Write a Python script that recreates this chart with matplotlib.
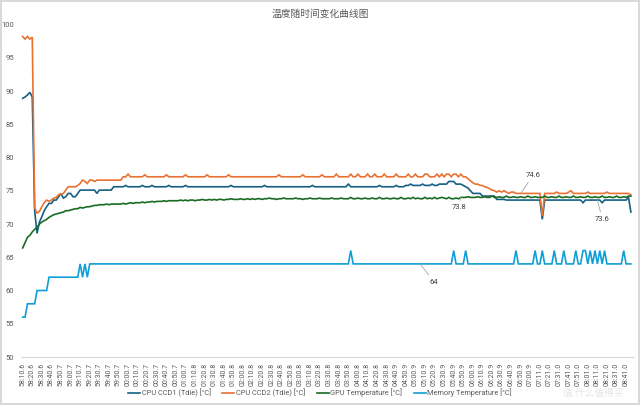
import matplotlib.pyplot as plt
import numpy as np

# chart text
title = "温度随时间变化曲线图"
series_names = ["CPU CCD1 (Tdie) [°C]", "CPU CCD2 (Tdie) [°C]",
                "GPU Temperature [°C]", "Memory Temperature [°C]"]

# one label every 4 samples
time_labels = [
    "58:10.6", "58:20.6", "58:30.6", "58:40.6", "58:50.7", "59:00.7", "59:10.7", "59:20.7",
    "59:30.7", "59:40.7", "59:50.7", "00:00.7", "00:10.7", "00:20.7", "00:30.7", "00:40.7",
    "00:50.7", "01:00.7", "01:10.8", "01:20.8", "01:30.8", "01:40.8", "01:50.8", "02:00.8",
    "02:10.8", "02:20.8", "02:30.8", "02:40.8", "02:50.8", "03:00.8", "03:10.8", "03:20.8",
    "03:30.8", "03:40.8", "03:50.8", "04:00.8", "04:10.8", "04:20.8", "04:30.8", "04:40.9",
    "04:50.9", "05:00.9", "05:10.9", "05:20.9", "05:30.9", "05:40.9", "05:50.9", "06:00.9",
    "06:10.9", "06:20.9", "06:30.9", "06:40.9", "06:50.9", "07:00.9", "07:11.0", "07:21.0",
    "07:31.0", "07:41.0", "07:51.0", "08:01.0", "08:11.0", "08:21.0", "08:31.0", "08:41.0",
]

ccd1 = [
    88.9, 89.1, 89.4, 89.8, 89.1, 72.0, 68.6, 70.3, 71.1, 72.0, 72.6, 73.1, 73.1, 73.6, 73.6, 74.1,
    74.6, 73.9, 74.1, 74.6, 74.6, 74.1, 74.1, 74.6, 75.1, 75.1, 75.1, 75.1, 75.1, 75.1, 75.1, 74.6,
    75.1, 75.1, 75.1, 75.1, 75.1, 75.1, 75.6, 75.6, 75.6, 75.6, 75.6, 75.8, 75.6, 75.6, 75.6, 75.6,
    75.6, 75.6, 75.8, 75.6, 75.6, 75.6, 75.8, 75.6, 75.6, 75.6, 75.6, 75.6, 75.6, 75.8, 75.6, 75.6,
    75.6, 75.6, 75.6, 75.6, 75.8, 75.6, 75.6, 75.6, 75.6, 75.6, 75.6, 75.6, 75.6, 75.6, 75.6, 75.6,
    75.6, 75.6, 75.6, 75.6, 75.6, 75.6, 75.6, 75.8, 75.6, 75.6, 75.6, 75.6, 75.6, 75.6, 75.6, 75.6,
    75.6, 75.6, 75.6, 75.6, 75.6, 75.8, 75.6, 75.6, 75.6, 75.6, 75.6, 75.6, 75.6, 75.6, 75.6, 75.6,
    75.6, 75.6, 75.6, 75.6, 75.6, 75.6, 75.6, 75.6, 75.6, 75.8, 75.6, 75.6, 75.6, 75.6, 75.6, 75.6,
    75.6, 75.6, 75.6, 75.6, 75.6, 75.6, 75.6, 75.6, 76.0, 75.6, 75.6, 75.6, 75.6, 75.6, 75.6, 75.6,
    75.6, 75.6, 75.6, 75.6, 75.6, 75.8, 75.6, 75.6, 75.6, 75.6, 75.6, 75.6, 75.8, 75.6, 75.6, 75.6,
    75.8, 75.8, 76.0, 75.8, 75.8, 75.8, 75.8, 76.0, 75.8, 75.8, 75.8, 76.0, 75.8, 75.8, 76.0, 76.0,
    76.0, 76.0, 76.4, 76.4, 76.4, 76.0, 76.0, 76.0, 75.8, 75.6, 75.4, 75.0, 74.6, 74.6, 74.6, 74.6,
    74.2, 74.2, 74.2, 74.2, 74.2, 74.2, 73.7, 73.7, 73.7, 73.7, 73.6, 73.6, 73.6, 73.6, 73.6, 73.6,
    73.6, 73.6, 73.6, 73.6, 73.6, 73.6, 73.6, 73.6, 73.6, 70.7, 73.6, 73.6, 73.6, 73.6, 73.6, 73.6,
    73.6, 73.6, 73.6, 73.6, 73.6, 73.6, 73.6, 73.6, 73.6, 73.6, 73.2, 73.6, 73.6, 73.6, 73.6, 73.6,
    73.6, 73.6, 73.2, 73.6, 73.6, 73.6, 73.6, 73.6, 73.6, 73.6, 73.6, 73.6, 73.6, 74.0, 71.8,
]

ccd2 = [
    98.2, 97.8, 98.2, 97.8, 98.1, 72.5, 71.6, 71.9, 72.6, 73.2, 73.6, 73.4, 73.6, 73.9, 74.0, 74.4,
    74.5, 74.6, 75.1, 75.6, 75.6, 75.6, 75.6, 75.8, 76.1, 76.6, 76.4, 76.1, 76.6, 76.6, 76.4, 76.6,
    76.6, 76.6, 76.6, 76.6, 76.6, 76.6, 76.6, 76.6, 76.6, 76.6, 77.1, 77.1, 77.5, 77.1, 77.1, 77.1,
    77.1, 77.1, 77.1, 77.4, 77.1, 77.1, 77.1, 77.1, 77.1, 77.1, 77.1, 77.1, 77.4, 77.1, 77.1, 77.1,
    77.1, 77.1, 77.1, 77.1, 77.4, 77.1, 77.1, 77.1, 77.1, 77.1, 77.1, 77.1, 77.1, 77.4, 77.1, 77.1,
    77.1, 77.1, 77.1, 77.1, 77.1, 77.1, 77.4, 77.1, 77.1, 77.1, 77.1, 77.1, 77.1, 77.1, 77.1, 77.1,
    77.1, 77.1, 77.1, 77.1, 77.1, 77.1, 77.1, 77.1, 77.1, 77.1, 77.1, 77.4, 77.1, 77.1, 77.1, 77.1,
    77.1, 77.1, 77.1, 77.1, 77.1, 77.4, 77.1, 77.1, 77.1, 77.1, 77.1, 77.1, 77.1, 77.4, 77.1, 77.1,
    77.1, 77.1, 77.1, 77.5, 77.1, 77.1, 77.1, 77.1, 77.1, 77.5, 77.1, 77.1, 77.5, 77.1, 77.1, 77.1,
    77.5, 77.1, 77.1, 77.5, 77.1, 77.1, 77.1, 77.5, 77.1, 77.1, 77.1, 77.1, 77.5, 77.1, 77.1, 77.1,
    77.1, 77.5, 77.1, 77.1, 77.5, 77.1, 77.1, 77.1, 77.5, 77.5, 77.1, 77.1, 77.1, 77.5, 77.1, 77.5,
    77.1, 77.5, 77.5, 77.1, 77.5, 77.5, 77.1, 77.5, 77.1, 77.1, 76.8, 76.5, 76.2, 76.0, 76.0, 75.8,
    75.8, 75.6, 75.5, 75.3, 75.1, 75.0, 74.8, 75.0, 74.8, 75.0, 74.8, 74.6, 74.8, 74.8, 74.6, 74.6,
    74.6, 74.6, 74.6, 74.6, 74.6, 74.6, 74.6, 74.6, 74.6, 71.2, 74.6, 74.6, 74.6, 74.6, 74.6, 74.8,
    74.6, 74.6, 74.6, 74.6, 74.8, 75.0, 74.6, 74.6, 74.6, 74.6, 74.6, 74.6, 74.8, 74.6, 74.6, 74.6,
    74.6, 74.6, 74.6, 74.6, 74.8, 74.6, 74.6, 74.6, 74.6, 74.6, 74.6, 74.6, 74.6, 74.6, 74.4,
]

gpu = [
    66.4, 67.2, 68.0, 68.3, 68.8, 69.2, 69.5, 70.0, 70.3, 70.5, 70.7, 71.0, 71.2, 71.4, 71.5, 71.6,
    71.7, 71.8, 72.0, 72.0, 72.1, 72.2, 72.3, 72.3, 72.5, 72.4, 72.5, 72.6, 72.6, 72.7, 72.8, 72.8,
    72.9, 72.9, 72.9, 73.0, 72.9, 73.0, 73.0, 73.0, 73.0, 73.0, 73.1, 73.0, 73.1, 73.2, 73.1, 73.2,
    73.2, 73.2, 73.3, 73.2, 73.3, 73.3, 73.4, 73.3, 73.4, 73.4, 73.4, 73.5, 73.4, 73.5, 73.5, 73.5,
    73.5, 73.5, 73.6, 73.5, 73.6, 73.5, 73.6, 73.6, 73.5, 73.6, 73.6, 73.7, 73.6, 73.6, 73.7, 73.6,
    73.7, 73.6, 73.7, 73.7, 73.6, 73.7, 73.7, 73.8, 73.7, 73.7, 73.7, 73.8, 73.7, 73.7, 73.8, 73.7,
    73.8, 73.7, 73.8, 73.8, 73.7, 73.8, 73.8, 73.9, 73.8, 73.8, 73.7, 73.8, 73.8, 73.9, 73.8, 73.8,
    73.8, 73.8, 73.9, 73.8, 73.8, 73.7, 73.8, 73.8, 73.9, 73.8, 73.8, 73.8, 73.9, 73.8, 73.8, 73.8,
    73.8, 73.9, 73.8, 73.8, 73.8, 73.9, 73.8, 73.8, 73.8, 74.0, 73.8, 73.8, 73.9, 73.8, 73.8, 73.9,
    73.8, 73.8, 73.9, 73.8, 73.8, 74.0, 73.8, 73.8, 73.9, 73.8, 73.8, 73.9, 73.8, 73.8, 74.0, 73.8,
    73.8, 73.9, 73.8, 74.0, 73.8, 73.9, 73.8, 73.8, 74.0, 73.8, 73.9, 73.8, 74.0, 73.8, 73.9, 74.0,
    73.9, 73.8, 74.0, 73.8, 73.8, 73.9, 73.8, 74.0, 74.0, 74.0, 74.1, 74.0, 74.0, 74.0, 74.1, 74.0,
    74.0, 74.1, 74.0, 74.0, 74.2, 74.0, 74.0, 74.1, 74.0, 74.0, 74.2, 74.0, 74.0, 74.1, 74.0, 74.0,
    74.1, 74.0, 74.0, 74.2, 74.0, 74.0, 74.1, 74.0, 74.0, 74.0, 74.2, 74.0, 74.0, 74.1, 74.0, 74.0,
    74.2, 74.0, 74.0, 74.1, 74.0, 74.0, 74.2, 74.0, 74.0, 74.1, 74.0, 74.0, 74.2, 74.0, 74.0, 74.1,
    74.0, 74.0, 74.2, 74.0, 74.0, 74.1, 74.0, 74.0, 74.2, 74.0, 74.0, 74.1, 74.0, 74.2, 74.2,
]

mem = [
    56, 56, 58, 58, 58, 58, 60, 60, 60, 60, 60, 62, 62, 62, 62, 62,
    62, 62, 62, 62, 62, 62, 62, 62, 64, 62, 64, 62, 64, 64, 64, 64,
    64, 64, 64, 64, 64, 64, 64, 64, 64, 64, 64, 64, 64, 64, 64, 64,
    64, 64, 64, 64, 64, 64, 64, 64, 64, 64, 64, 64, 64, 64, 64, 64,
    64, 64, 64, 64, 64, 64, 64, 64, 64, 64, 64, 64, 64, 64, 64, 64,
    64, 64, 64, 64, 64, 64, 64, 64, 64, 64, 64, 64, 64, 64, 64, 64,
    64, 64, 64, 64, 64, 64, 64, 64, 64, 64, 64, 64, 64, 64, 64, 64,
    64, 64, 64, 64, 64, 64, 64, 64, 64, 64, 64, 64, 64, 64, 64, 64,
    64, 64, 64, 64, 64, 64, 64, 64, 64, 66, 64, 64, 64, 64, 64, 64,
    64, 64, 64, 64, 64, 64, 64, 64, 64, 64, 64, 64, 64, 64, 64, 64,
    64, 64, 64, 64, 64, 64, 64, 64, 64, 64, 64, 64, 64, 64, 64, 64,
    64, 64, 64, 64, 66, 64, 64, 64, 64, 66, 64, 64, 64, 64, 64, 64,
    64, 64, 64, 64, 64, 64, 64, 64, 64, 64, 64, 64, 64, 64, 66, 64,
    64, 64, 64, 64, 64, 64, 66, 64, 64, 66, 64, 64, 64, 64, 66, 64,
    64, 64, 66, 64, 64, 64, 64, 66, 64, 64, 66, 66, 64, 66, 64, 66,
    64, 66, 64, 66, 64, 64, 64, 64, 64, 64, 64, 66, 64, 64, 64,
]

colors = ["#156082", "#E97132", "#196B24", "#0F9ED5"]
txt = "#595959"
font = ["Roboto", "Noto Sans CJK SC", "DejaVu Sans"]
plt.rcParams["font.family"] = font

fig = plt.figure(figsize=(6.4, 4.05), dpi=100, edgecolor="#d9d9d9", linewidth=1.5)
ax = fig.add_axes([21 / 640, 0.1185, 613 / 640, 0.821])

x = np.arange(len(ccd1))
for vals, name, c in zip([ccd1, ccd2, gpu, mem], series_names, colors):
    ax.plot(x, vals, color=c, lw=1.2, label=name, solid_joinstyle="miter")

ax.set_xlim(-0.7, 255.3)
ax.set_ylim(50, 100)
ax.set_yticks(np.arange(50, 101, 5))
ax.set_xticks(np.arange(len(time_labels)) * 4)
ax.set_xticklabels(time_labels, rotation=90, fontsize=5, color=txt)
ax.tick_params(axis="y", labelsize=5.5, labelcolor=txt, length=0, pad=5)
ax.tick_params(axis="x", length=0, pad=4)
for s in ["top", "right", "left"]:
    ax.spines[s].set_visible(False)
ax.spines["bottom"].set_color("#d9d9d9")
ax.spines["bottom"].set_linewidth(0.8)

fig.suptitle(title, y=0.978, fontsize=7, color=txt, family=["Noto Sans CJK SC", "DejaVu Sans"])

# data labels with leader lines
lead = dict(arrowstyle="-", color="#a6a6a6", lw=0.6, shrinkA=1, shrinkB=0)
ax.annotate("64", xy=(166, mem[166]), xytext=(170, 61.3), fontsize=5.5, color="#404040",
            va="center", arrowprops=lead)
ax.annotate("74.6", xy=(208, ccd2[208]), xytext=(210, 77.3), fontsize=5.5, color="#404040",
            va="center", arrowprops=lead)
ax.annotate("73.8", xy=(183, gpu[183]), xytext=(179, 72.5), fontsize=5.5, color="#404040",
            va="center", arrowprops=lead)
ax.annotate("73.6", xy=(240, ccd1[240]), xytext=(239, 70.75), fontsize=5.5, color="#404040",
            va="center", arrowprops=lead)

fig.legend(loc="center", bbox_to_anchor=(0.5, 0.03), ncol=4, frameon=False, fontsize=5.3,
           handlelength=1.6, handletextpad=0.2, columnspacing=1.6, labelcolor=txt)

fig.text(0.975, 0.03, "值 什么值得买", fontsize=7, color="#e6e6e6", ha="right", va="center",
         family=["Noto Sans CJK SC", "DejaVu Sans"])

fig.savefig("out.png", dpi=100, edgecolor=fig.get_edgecolor())
